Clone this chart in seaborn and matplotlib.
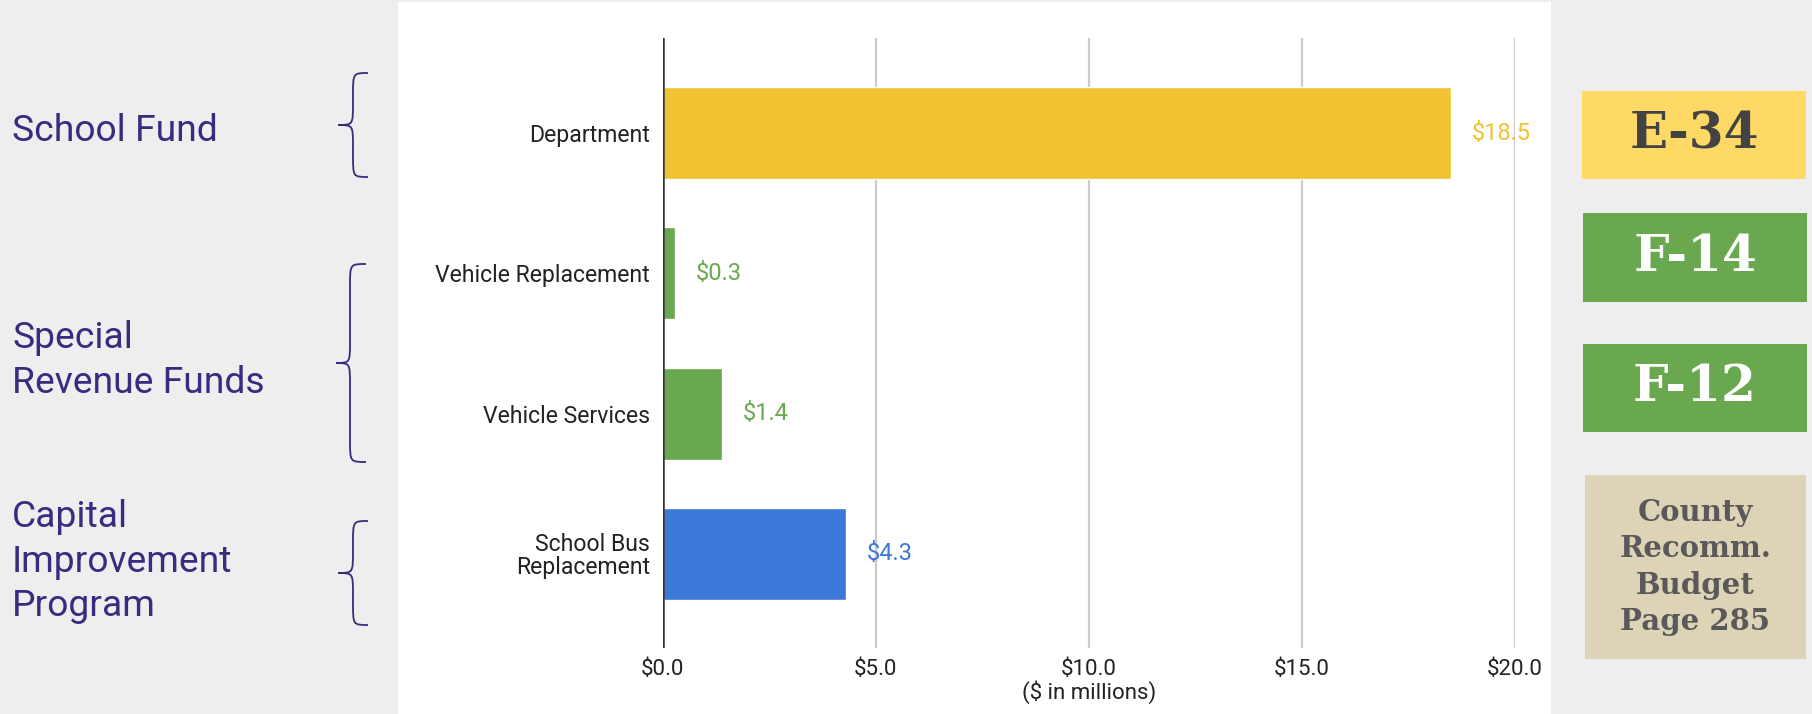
import matplotlib
matplotlib.use("Agg")
import matplotlib.pyplot as plt
from matplotlib.patches import Rectangle, PathPatch
from matplotlib.path import Path
import seaborn as sns

# ---- data ----
categories = ["Department", "Vehicle Replacement", "Vehicle Services", "School Bus\nReplacement"]
amounts = [18.5, 0.3, 1.4, 4.3]
bar_colors = ["#f1c232", "#6aa84f", "#6aa84f", "#3c78d8"]
x_ticks = [0, 5, 10, 15, 20]
x_tick_labels = ["$0.0", "$5.0", "$10.0", "$15.0", "$20.0"]
x_label = "($ in millions)"
fund_groups = [["School Fund"], ["Special", "Revenue Funds"], ["Capital", "Improvement", "Program"]]
page_refs = ["E-34", "F-14", "F-12", "County\nRecomm.\nBudget\nPage 285"]

W_PX, H_PX = 1812, 714


def fx(px):
    return px / W_PX


def fy(py):
    return 1 - py / H_PX


sns.set_theme(style="white")
plt.rcParams["font.family"] = ["Roboto", "DejaVu Sans"]

fig = plt.figure(figsize=(W_PX / 100, H_PX / 100), dpi=100, facecolor="#eeeeee")

# white chart panel
fig.add_artist(Rectangle((fx(398), 0), fx(1551) - fx(398), fy(2), transform=fig.transFigure,
                         facecolor="white", edgecolor="none", zorder=-5))

ax_left, ax_right, ax_top, ax_bottom = 662.5, 1515.0, 38.3, 648.3
ax = fig.add_axes([fx(ax_left), fy(ax_bottom), fx(ax_right) - fx(ax_left), (ax_bottom - ax_top) / H_PX])
ax.patch.set_visible(False)

sns.barplot(x=amounts, y=categories, hue=categories, palette=bar_colors, orient="h",
            width=0.657, saturation=1, legend=False, ax=ax, zorder=2)

ax.set_xlim(0, 20)
ax.set_ylim(3.675, -0.678)
ax.set_xticks(x_ticks)
ax.set_xticklabels(x_tick_labels, fontsize=16, color="#222222")
ax.xaxis.grid(True, color="#cccccc", lw=1.6)
ax.yaxis.grid(False)
ax.set_axisbelow(True)
ax.axvline(0, color="#333333", lw=1.8, zorder=3)
for s in ax.spines.values():
    s.set_visible(False)
ax.tick_params(axis="x", length=0, pad=8)
ax.tick_params(axis="y", length=0, pad=9, labelsize=16.6, labelcolor="#222222")
for t in ax.get_yticklabels():
    t.set_linespacing(1.0)
ax.set_xlabel(x_label, fontsize=16, color="#222222", labelpad=0)
ax.set_ylabel("")

# value labels next to each bar
for i, (v, c) in enumerate(zip(amounts, bar_colors)):
    ax.annotate(f"${v:.1f}", xy=(v, i), xytext=(15, 0), textcoords="offset points",
                ha="left", va="center", fontsize=17, color=c, annotation_clip=False)

# fund group labels with braces
purple = "#3a2a80"
group_baselines = [[141], [348, 392.5], [527, 571.5, 615.6]]
for lines, bases in zip(fund_groups, group_baselines):
    for line, b in zip(lines, bases):
        fig.text(fx(12), fy(b), line, fontsize=26.8, color=purple, ha="left", va="baseline")


def brace(x_tip, x_mid, x_end, y_top, y_tip, y_bot, r=22):
    pts = [
        (x_end, y_top),
        (x_mid, y_top), (x_mid, y_top), (x_mid, y_top + r),
        (x_mid, y_tip - r),
        (x_mid, y_tip), (x_mid, y_tip), (x_tip, y_tip),
        (x_mid, y_tip), (x_mid, y_tip), (x_mid, y_tip + r),
        (x_mid, y_bot - r),
        (x_mid, y_bot), (x_mid, y_bot), (x_end, y_bot),
    ]
    codes = [Path.MOVETO,
             Path.CURVE4, Path.CURVE4, Path.CURVE4,
             Path.LINETO,
             Path.CURVE4, Path.CURVE4, Path.CURVE4,
             Path.CURVE4, Path.CURVE4, Path.CURVE4,
             Path.LINETO,
             Path.CURVE4, Path.CURVE4, Path.CURVE4]
    verts = [(fx(x), fy(y)) for x, y in pts]
    fig.add_artist(PathPatch(Path(verts, codes), transform=fig.transFigure,
                             facecolor="none", edgecolor=purple, lw=1.3))


brace(338, 353, 368, 73, 125, 177)
brace(336, 350, 366, 264, 363, 462)
brace(338, 353, 368, 521, 573, 625)

# page reference boxes
boxes = [
    (1582, 91, 1806, 179, "#ffd966", "#434343", 36, 1.1),
    (1583, 213, 1807, 302, "#6aa84f", "#ffffff", 36, 1.1),
    (1583, 344, 1807, 432, "#6aa84f", "#ffffff", 36, 1.1),
    (1585, 475, 1806, 659, "#ddd3b6", "#595959", 21, 1.32),
]
for ref, (x0, y0, x1, y1, fc, tc, fs, ls) in zip(page_refs, boxes):
    fig.add_artist(Rectangle((fx(x0), fy(y1)), fx(x1) - fx(x0), fy(y0) - fy(y1),
                             transform=fig.transFigure, facecolor=fc, edgecolor="none", zorder=1))
    fig.text(fx((x0 + x1) / 2), fy((y0 + y1) / 2), ref, ha="center", va="center",
             fontsize=fs, fontweight="bold", color=tc, family="DejaVu Serif",
             linespacing=ls, zorder=2)

fig.savefig("out.png", dpi=100, facecolor=fig.get_facecolor())
